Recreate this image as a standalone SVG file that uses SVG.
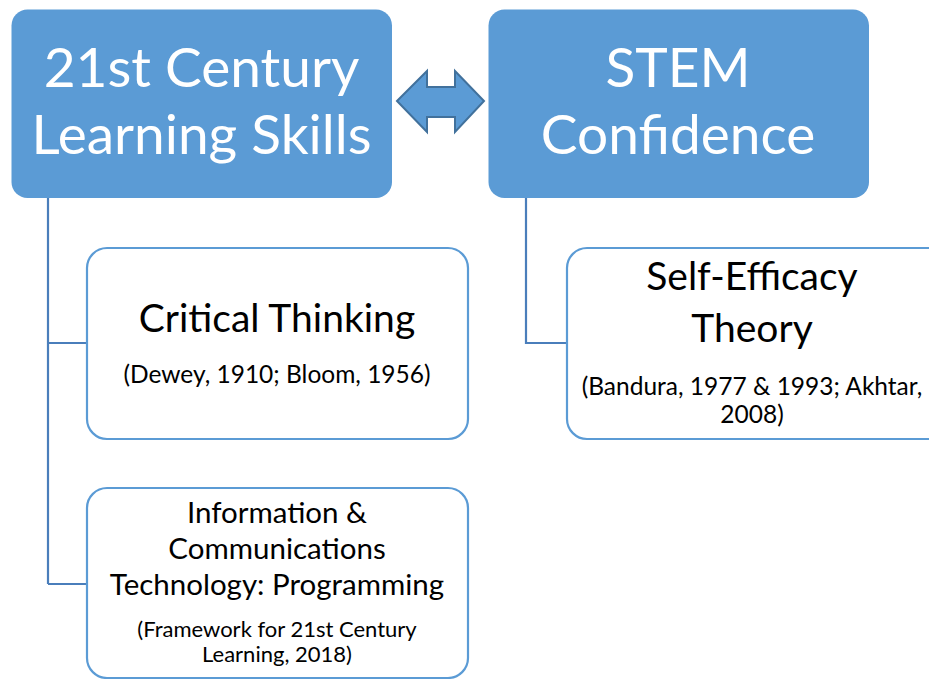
<svg xmlns="http://www.w3.org/2000/svg" width="929" height="679" viewBox="0 0 929 679">
  <style>
    .hdr { fill: #5B9BD5; }
    .sub { fill: #FFFFFF; stroke: #5B9BD5; stroke-width: 2.2; }
    .wire { fill: none; stroke: #4A7EBB; stroke-width: 2.2; }
    text { font-family: Lato, "Open Sans", "Liberation Sans", sans-serif; text-anchor: middle; }
    .big { fill: #FFFFFF; font-size: 55px; }
    .mid { fill: #000000; font-size: 39px; }
    .ict { fill: #000000; font-size: 29.5px; }
    .cite { fill: #000000; font-size: 24.5px; }
    .cite2 { fill: #000000; font-size: 22px; }
  </style>
  <rect width="929" height="679" fill="#FFFFFF"/>

  <!-- connectors -->
  <g id="connectors">
    <path class="wire" d="M48 198 V584 M48 343 H87 M48 584 H87"/>
    <path class="wire" d="M526 198 V343 H567"/>
    <path d="M397 101 L427 71 V87 H455 V71 L484 101 L455 132 V117 H427 V132 Z" fill="#5B9BD5" stroke="#41719C" stroke-width="2" stroke-linejoin="miter"/>
  </g>

  <g id="skills">
    <rect class="hdr" x="11.5" y="9.5" width="380.5" height="188.5" rx="16"/>
    <text class="big" x="201.5" y="87">21st Century</text>
    <text class="big" x="201.5" y="154">Learning Skills</text>
  </g>

  <g id="stem">
    <rect class="hdr" x="488.5" y="9.5" width="380.5" height="188.5" rx="16"/>
    <text class="big" x="678" y="87">STEM</text>
    <text class="big" x="678" y="154">Confidence</text>
  </g>

  <g id="critical">
    <rect class="sub" x="87" y="248" width="381" height="191" rx="20"/>
    <text class="mid" x="277" y="332">Critical Thinking</text>
    <text class="cite" x="277" y="383">(Dewey, 1910; Bloom, 1956)</text>
  </g>

  <g id="selfefficacy">
    <rect class="sub" x="567" y="248" width="381" height="191" rx="20"/>
    <text class="mid" x="752" y="290">Self-Efficacy</text>
    <text class="mid" x="752" y="342">Theory</text>
    <text class="cite" x="752" y="395">(Bandura, 1977 &amp; 1993; Akhtar,</text>
    <text class="cite" x="752" y="423">2008)</text>
  </g>

  <g id="ict">
    <rect class="sub" x="87" y="488" width="381" height="190" rx="20"/>
    <text class="ict" x="277" y="523">Information &amp;</text>
    <text class="ict" x="277" y="559">Communications</text>
    <text class="ict" x="277" y="595">Technology: Programming</text>
    <text class="cite2" x="277" y="637">(Framework for 21st Century</text>
    <text class="cite2" x="277" y="662">Learning, 2018)</text>
  </g>
</svg>
